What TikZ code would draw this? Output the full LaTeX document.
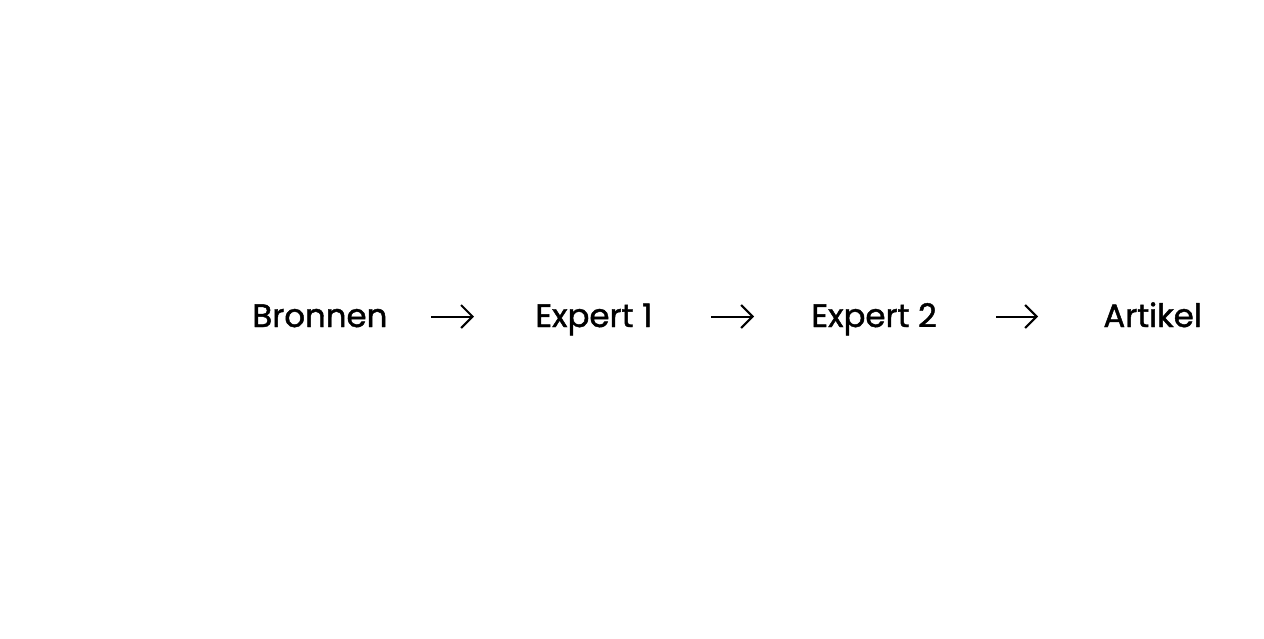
\documentclass[tikz,border=0pt]{standalone}
\usepackage{fontspec}
\setmainfont{Poppins}[FakeBold=1.4]
\usetikzlibrary{arrows.meta}
\tikzset{
  lbl/.style={anchor=base west, inner sep=0pt, font=\fontsize{16.2}{20}\selectfont, text=black},
  arr/.style={line width=1pt, -{Straight Barb[length=5.75pt,width=11.5pt,line width=1pt]}}
}
\begin{document}
\begin{tikzpicture}[x=0.5pt,y=-0.5pt]
\useasboundingbox[fill=white] (0,0) rectangle (1264,638);
\node[lbl] (bron) at (252,327) {Bronnen};
\node[lbl] (exp1) at (535,327) {Expert 1};
\node[lbl] (exp2) at (811,327) {Expert 2};
\node[lbl] (art)  at (1103,327) {Artikel};
\draw[arr] ([shift={(89.5pt,5.25pt)}]bron.base west) -- ([shift={(-30.5pt,5.25pt)}]exp1.base west);
\draw[arr] ([shift={(88pt,5.25pt)}]exp1.base west) -- ([shift={(-28.5pt,5.25pt)}]exp2.base west);
\draw[arr] ([shift={(92.5pt,5.25pt)}]exp2.base west) -- ([shift={(-32.5pt,5.25pt)}]art.base west);
\end{tikzpicture}
\end{document}
